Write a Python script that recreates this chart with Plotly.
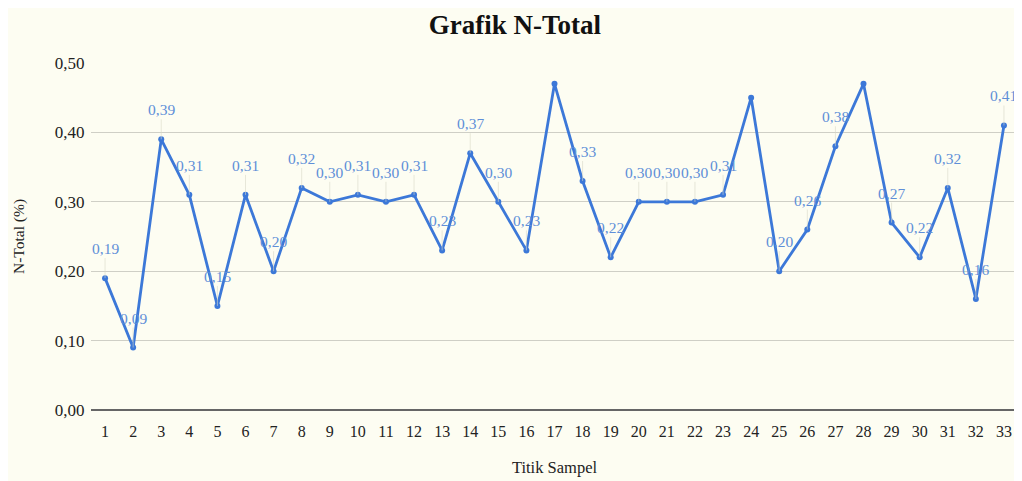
import plotly.graph_objects as go

samples = list(range(1, 34))
n_total = [0.19, 0.09, 0.39, 0.31, 0.15, 0.31, 0.20, 0.32, 0.30, 0.31, 0.30, 0.31,
           0.23, 0.37, 0.30, 0.23, 0.47, 0.33, 0.22, 0.30, 0.30, 0.30, 0.31, 0.45,
           0.20, 0.26, 0.38, 0.47, 0.27, 0.22, 0.32, 0.16, 0.41]
hidden_labels = [17, 24, 28]
y_ticks = [0.0, 0.1, 0.2, 0.3, 0.4, 0.5]
y_tick_text = ["0,00", "0,10", "0,20", "0,30", "0,40", "0,50"]

serif = "Liberation Serif, Times New Roman, serif"
blue = "#3c78d8"
bg = "#fdfdf2"

fig = go.Figure()
fig.add_trace(go.Scatter(
    x=samples, y=n_total, mode="lines+markers",
    line=dict(color=blue, width=2.8),
    marker=dict(color=blue, size=6),
    showlegend=False, cliponaxis=False,
))

for s, v in zip(samples, n_total):
    if s in hidden_labels:
        continue
    fig.add_annotation(
        x=s, y=v, text=f"{v:.2f}".replace(".", ","),
        showarrow=True, arrowhead=0, arrowwidth=0.6, arrowcolor="#d8d8c8",
        ax=0, ay=-20, yanchor="bottom", borderpad=0,
        font=dict(family=serif, size=15.5, color="#5f8fd8"),
    )

fig.update_layout(
    width=1014, height=473,
    paper_bgcolor=bg, plot_bgcolor=bg,
    margin=dict(l=83, r=4, t=55, b=71),
    title=dict(text="<b>Grafik N-Total</b>", x=0.5, xanchor="center", y=0.964,
               yanchor="middle", font=dict(family=serif, size=27, color="#111")),
    font=dict(family=serif, size=15, color="#222"),
)
fig.update_xaxes(
    range=[0.5, 33.5], tickmode="array", tickvals=samples,
    ticktext=[str(s) for s in samples], showgrid=False,
    title=dict(text="Titik Sampel", font=dict(family=serif, size=16.5), standoff=22),
    tickfont=dict(family=serif, size=16, color="#222"),
    showline=False, ticks="outside", ticklen=7, tickcolor=bg, zeroline=False,
)
fig.update_yaxes(
    range=[0, 0.5], tickvals=y_ticks, ticktext=y_tick_text,
    showgrid=True, gridcolor="#cfcfc6", gridwidth=1,
    zeroline=True, zerolinecolor="#666", zerolinewidth=2,
    title=dict(text="N-Total (%)", font=dict(family=serif, size=15.5), standoff=26),
    tickfont=dict(family=serif, size=17, color="#222"),
    ticks="outside", ticklen=2, tickcolor=bg,
)

fig.write_html("out.html")
